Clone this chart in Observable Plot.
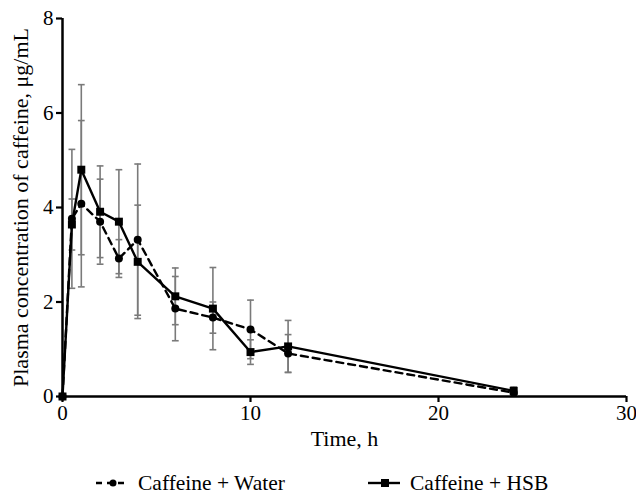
<!DOCTYPE html>
<html>
<head>
<meta charset="utf-8">
<script src="https://cdn.jsdelivr.net/npm/d3@7"></script>
<script src="https://cdn.jsdelivr.net/npm/@observablehq/plot@0.6"></script>
<style>
  body { margin: 0; background: #fff; }
  #chart { width: 636px; height: 472px; }
  .legend { position: relative; height: 22px; font-family: 'Liberation Serif', 'Times New Roman', serif; font-size: 21.5px; line-height: 22px; color: #000; }
  .legend .item { position: absolute; top: 0; display: flex; align-items: center; gap: 10px; }
  .legend .item span { font-family: 'Liberation Serif', 'Times New Roman', serif; }
</style>
</head>
<body>
<div id="chart"></div>
<script>
const times = [0, 0.5, 1, 2, 3, 4, 6, 8, 10, 12, 24];
const waterMean = [0, 3.76, 4.08, 3.70, 2.92, 3.32, 1.86, 1.67, 1.42, 0.91, 0.08];
const waterSD   = [0, 1.47, 1.76, 0.90, 0.40, 1.60, 0.68, 0.33, 0.62, 0.40, 0.05];
const hsbMean   = [0, 3.64, 4.80, 3.91, 3.70, 2.85, 2.12, 1.86, 0.94, 1.06, 0.12];
const hsbSD     = [0, 0.54, 1.80, 0.97, 1.10, 1.20, 0.60, 0.87, 0.26, 0.55, 0.08];
const seriesNames = ["Caffeine + Water", "Caffeine + HSB"];
const xTicks = [0, 10, 20, 30];
const yTicks = [0, 2, 4, 6, 8];

const water = times.map((t, i) => ({t, m: waterMean[i], sd: waterSD[i], s: seriesNames[0]}));
const hsb = times.map((t, i) => ({t, m: hsbMean[i], sd: hsbSD[i], s: seriesNames[1]}));
const all = water.concat(hsb).filter(d => d.sd > 0);
const capHalf = 0.18;

const font = "Liberation Serif";
const plot = Plot.plot({
  width: 636,
  height: 472,
  marginLeft: 62,
  marginRight: 10,
  marginTop: 18,
  marginBottom: 76,
  style: {fontFamily: font, fontSize: "21px", color: "#000", background: "#fff"},
  x: {domain: [0, 30]},
  y: {domain: [0, 8]},
  marks: [
    // error bars
    Plot.ruleX(all, {x: "t", y1: d => d.m - d.sd, y2: d => d.m + d.sd, stroke: "#7a7a7a", strokeWidth: 1.6}),
    Plot.link(all, {x1: d => d.t - capHalf, x2: d => d.t + capHalf, y1: d => d.m + d.sd, y2: d => d.m + d.sd, stroke: "#7a7a7a", strokeWidth: 1.6}),
    Plot.link(all, {x1: d => d.t - capHalf, x2: d => d.t + capHalf, y1: d => d.m - d.sd, y2: d => d.m - d.sd, stroke: "#7a7a7a", strokeWidth: 1.6}),
    // lines
    Plot.line(water, {x: "t", y: "m", stroke: "#000", strokeWidth: 2.4, strokeDasharray: "7,5"}),
    Plot.line(hsb, {x: "t", y: "m", stroke: "#000", strokeWidth: 2.4}),
    Plot.dot(water, {x: "t", y: "m", r: 4, fill: "#000", symbol: "circle"}),
    Plot.dot(hsb, {x: "t", y: "m", r: 4.5, fill: "#000", symbol: "square"}),
    // axes
    Plot.ruleY([0], {stroke: "#000", strokeWidth: 2.5}),
    Plot.ruleX([0], {stroke: "#000", strokeWidth: 2.5}),
    Plot.axisX({ticks: xTicks, tickSize: 6, tickPadding: 3, strokeWidth: 2.2, fontSize: 21, label: null}),
    Plot.axisX({ticks: [], label: "Time, h", labelAnchor: "center", labelArrow: "none", labelOffset: 49, fontSize: 22}),
    Plot.axisY({ticks: yTicks, tickSize: 6, tickPadding: 3, strokeWidth: 2.2, fontSize: 21, label: null}),
    Plot.axisY({ticks: [], label: "Plasma concentration of caffeine, μg/mL", labelAnchor: "center", labelArrow: "none", labelOffset: 50, dy: -5, fontSize: 22})
  ]
});
document.getElementById("chart").appendChild(plot);

// legend below
const legend = document.createElement("div");
legend.className = "legend";
const items = [
  {name: seriesNames[0], left: 96, dash: "6,5", sym: "circle"},
  {name: seriesNames[1], left: 368, dash: null, sym: "square"}
];
for (const it of items) {
  const div = document.createElement("div");
  div.className = "item";
  div.style.left = it.left + "px";
  const marker = it.sym === "circle"
    ? `<circle cx="17" cy="8" r="3.5" fill="#000"/>`
    : `<rect x="13" y="4" width="8" height="8" fill="#000"/>`;
  div.innerHTML = `<svg width="32" height="16"><line x1="0" y1="8" x2="32" y2="8" stroke="#000" stroke-width="2.4" ${it.dash ? `stroke-dasharray="${it.dash}"` : ""}/>${marker}</svg><span>${it.name}</span>`;
  legend.appendChild(div);
}
document.body.appendChild(legend);
</script>
</body>
</html>
